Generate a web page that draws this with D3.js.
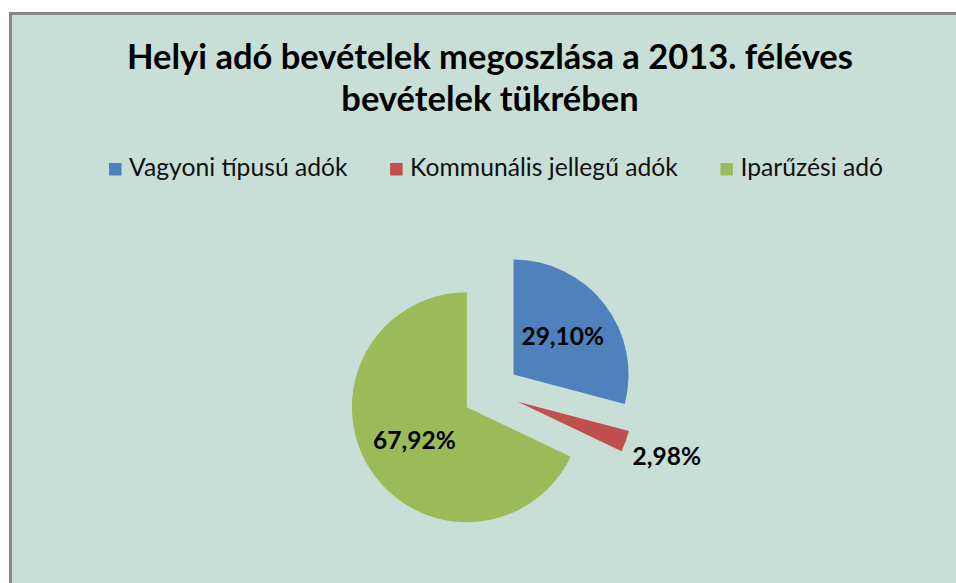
<!DOCTYPE html>
<html>
<head>
<meta charset="utf-8">
<script src="https://cdn.jsdelivr.net/npm/d3@7/dist/d3.min.js"></script>
<style>
  body { margin: 0; background: #fff; }
  text { font-family: Lato, "Open Sans", sans-serif; }
</style>
</head>
<body>
<script>
// chart data
const titleLines = ["Helyi adó bevételek megoszlása a 2013. féléves", "bevételek tükrében"];
const categories = ["Vagyoni típusú adók", "Kommunális jellegű adók", "Iparűzési adó"];
const shares = [29.10, 2.98, 67.92];
const colors = ["#4f81bd", "#c0504d", "#9bbb59"];

const width = 956
const height = 583
const cx = 491, cy = 392
const radius = 115
const explode = 28.5

var svg = d3.select("body").append("svg")
    .attr("width", width)
    .attr("height", height)

// chart area
svg.append("rect")
    .attr("x", 10.5)
    .attr("y", 13.5)
    .attr("width", width + 20)
    .attr("height", height + 20)
    .style("fill", "#c8dfd8")
    .style("stroke", "#878787")
    .style("stroke-width", 3)

// title
svg.selectAll("text.title")
    .data(titleLines)
    .enter()
    .append("text")
    .attr("class", "title")
    .attr("x", 490)
    .attr("y", (d, i) => 69 + i * 42)
    .attr("text-anchor", "middle")
    .style("font-size", "34.5px")
    .style("font-weight", "bold")
    .text(d => d)

// legend
var legend = svg.append("g")
var lx = 0
categories.forEach((c, i) => {
    var item = legend.append("g").attr("transform", `translate(${lx},0)`)
    item.append("rect")
        .attr("x", 0).attr("y", 163)
        .attr("width", 12.5).attr("height", 12.5)
        .style("fill", colors[i])
    var t = item.append("text")
        .attr("x", 20).attr("y", 176)
        .style("font-size", "24.7px")
        .style("fill", "#111")
        .text(c)
    lx += 20 + t.node().getComputedTextLength() + 42.5
})
var legendWidth = lx - 42.5
legend.attr("transform", `translate(${496 - legendWidth / 2},0)`)

// pie
var pie = d3.pie().sort(null).value(d => d)
var arcs = pie(shares)
var arc = d3.arc().innerRadius(0).outerRadius(radius)

function bisector(d) {
    return (d.startAngle + d.endAngle) / 2
}
function polar(a, r) {
    return [Math.sin(a) * r, -Math.cos(a) * r]
}

var slices = svg.selectAll("g.slice")
    .data(arcs)
    .enter()
    .append("g")
    .attr("class", "slice")
    .attr("transform", d => {
        var p = polar(bisector(d), explode)
        return `translate(${cx + p[0]},${cy + p[1]})`
    })

slices.append("path")
    .attr("d", arc)
    .style("fill", (d, i) => colors[i])

var fmt = v => d3.format(".2f")(v).replace(".", ",") + "%"

slices.append("text")
    .attr("transform", d => {
        var r = d.data < 5 ? radius * 1.38 : radius * 0.54
        var p = polar(bisector(d), r)
        return `translate(${p[0]},${p[1]})`
    })
    .attr("text-anchor", "middle")
    .attr("dy", "0.35em")
    .style("font-size", "24.5px")
    .style("font-weight", "bold")
    .style("fill", "#000")
    .text(d => fmt(d.data))
</script>
</body>
</html>
